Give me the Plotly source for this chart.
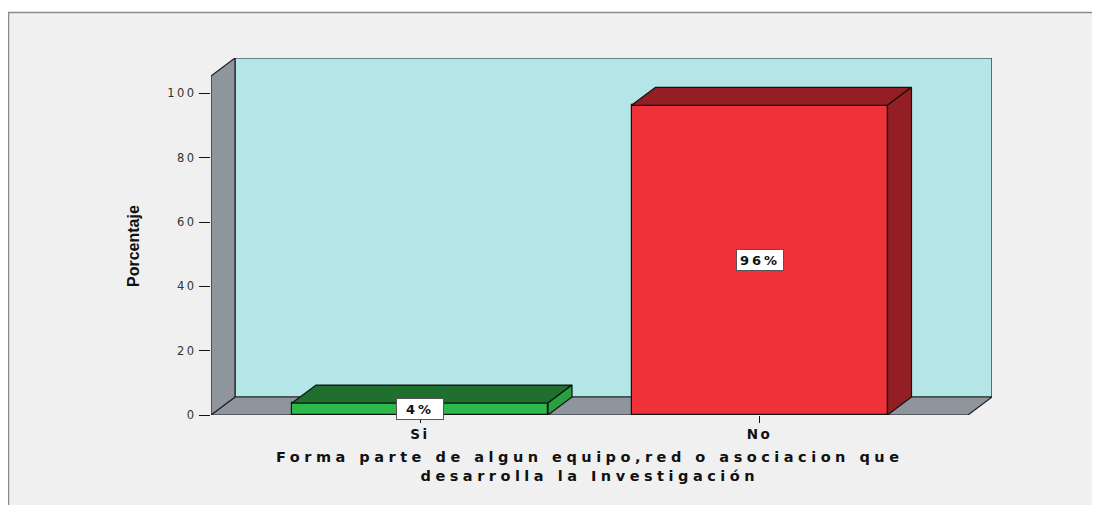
import plotly.graph_objects as go

# ---------------- data ----------------
categories = ["Si", "No"]
percent = [3.7, 96.3]
bar_front_colors = ["#2DB84B", "#EF3139"]
bar_top_colors = ["#1F6F2F", "#931F24"]
bar_side_colors = ["#28A040", "#931F24"]
y_ticks = [0, 20, 40, 60, 80, 100]
x_title_lines = ["Forma parte de algun equipo,red o asociacion que",
                 "desarrolla la Investigación"]
y_title = "Porcentaje"

# ---------------- geometry (reference page pixels) ----------------
OFF = 8                                      # browser body margin
W, H = 1100 - OFF, 505 - OFF
PL, PR, PT, PB = 211, 992, 58, 415           # plot area edges (page px)
PX_PER_CAT = 339.5
CAT0_PX = 420
PX_PER_PCT = 3.216
DEPTH_PX = (24, 18)

xpos = list(range(len(categories)))
x0 = (PL - CAT0_PX) / PX_PER_CAT
x1 = (PR - CAT0_PX) / PX_PER_CAT
ymax = (PB - PT) / PX_PER_PCT
dx = DEPTH_PX[0] / PX_PER_CAT
dy = DEPTH_PX[1] / PX_PER_PCT
wall_top = ymax - dy
bar_w = 256 / PX_PER_CAT

fig = go.Figure()

# bar front faces
fig.add_trace(go.Bar(
    x=xpos, y=percent, width=bar_w,
    marker=dict(color=bar_front_colors, line=dict(color="#111111", width=1.2)),
    hoverinfo="skip", showlegend=False,
))

# bar 3D top and side faces
for c, v, ct, cs in zip(xpos, percent, bar_top_colors, bar_side_colors):
    l, r = c - bar_w / 2, c + bar_w / 2
    fig.add_trace(go.Scatter(
        x=[l, r, r + dx, l + dx, l], y=[v, v, v + dy, v + dy, v],
        fill="toself", fillcolor=ct, mode="lines",
        line=dict(color="#111111", width=1.2), hoverinfo="skip", showlegend=False))
    fig.add_trace(go.Scatter(
        x=[r, r + dx, r + dx, r, r], y=[0, dy, v + dy, v, 0],
        fill="toself", fillcolor=cs, mode="lines",
        line=dict(color="#111111", width=1.2), hoverinfo="skip", showlegend=False))

# value labels
for c, v in zip(xpos, percent):
    fig.add_annotation(
        x=c, y=v / 2, text=f"<b>{v:.0f}%</b>", showarrow=False,
        font=dict(family="DejaVu Sans", size=13, color="#111111"),
        width=42, height=16, align="center",
        bgcolor="white", bordercolor="#555555", borderwidth=1, borderpad=2)


def px(p):
    return (p - PL) / (PR - PL)


def py(p):
    return (PB - p) / (PB - PT)


shapes = [
    # outer frame
    dict(type="rect", xref="paper", yref="paper", x0=px(8.5), x1=px(1115),
         y0=py(530), y1=py(12.5), fillcolor="#F0F0F0",
         line=dict(color="#8A8A8A", width=1.5), layer="below"),
    # back wall
    dict(type="rect", xref="x", yref="y", x0=x0 + dx, x1=x1, y0=dy, y1=ymax,
         fillcolor="#B4E6E7", line=dict(color="#222222", width=1.2), layer="below"),
    # floor
    dict(type="path", xref="x", yref="y",
         path=f"M {x0},0 L {x1 - dx},0 L {x1},{dy} L {x0 + dx},{dy} Z",
         fillcolor="#8E959D", line=dict(color="#222222", width=1.2), layer="below"),
    # left wall
    dict(type="path", xref="x", yref="y",
         path=f"M {x0},0 L {x0},{wall_top} L {x0 + dx},{ymax} L {x0 + dx},{dy} Z",
         fillcolor="#8E959D", line=dict(color="#222222", width=1.2), layer="below"),
]

fig.add_annotation(
    xref="paper", yref="paper", x=px(590), y=py(466.5), xanchor="center", yanchor="middle",
    text="<br>".join(f"<b>{t}</b>" for t in x_title_lines), showarrow=False, align="center",
    borderpad=0, font=dict(family="DejaVu Sans", size=14.5, color="#111111"))
fig.add_annotation(
    xref="paper", yref="paper", x=px(133), y=py(246), xanchor="center", yanchor="middle",
    text=f"<b>{y_title}</b>", showarrow=False, textangle=-90,
    font=dict(family="Liberation Sans, Arial, sans-serif", size=16, color="#111111"))

fig.update_layout(
    width=W, height=H,
    margin=dict(l=PL - OFF, r=1100 - PR, t=PT - OFF, b=505 - PB),
    paper_bgcolor="white", plot_bgcolor="rgba(0,0,0,0)",
    shapes=shapes, showlegend=False, bargap=0,
    xaxis=dict(range=[x0, x1], tickvals=xpos, ticktext=[f"<b>{c}</b>" for c in categories],
               ticks="outside", ticklen=7, tickcolor="#111111", showgrid=False,
               zeroline=False, showline=False,
               tickfont=dict(family="DejaVu Sans", size=13.5, color="#111111")),
    yaxis=dict(range=[0, ymax], tickvals=y_ticks, ticks="outside", ticklen=11,
               tickcolor="#111111", showgrid=False, zeroline=False, showline=False,
               tickfont=dict(family="DejaVu Sans", size=11.5, color="#333333")),
)

# the reference image is horizontally stretched: widen horizontal text with letter spacing
post = """
var gd = document.getElementById('{plot_id}');
gd.querySelectorAll('.xtick text').forEach(function(t){ t.style.letterSpacing = '2.5px'; });
gd.querySelectorAll('.ytick text').forEach(function(t){ t.style.letterSpacing = '2.5px'; });
gd.querySelectorAll('.annotation-text').forEach(function(t){
  var s = t.textContent;
  if (s.indexOf('%') >= 0) { t.style.letterSpacing = '3px'; }
  else if (s.indexOf('Porcentaje') < 0) { t.style.letterSpacing = '4.5px'; }
});
"""
fig.write_html("out.html", post_script=post)
